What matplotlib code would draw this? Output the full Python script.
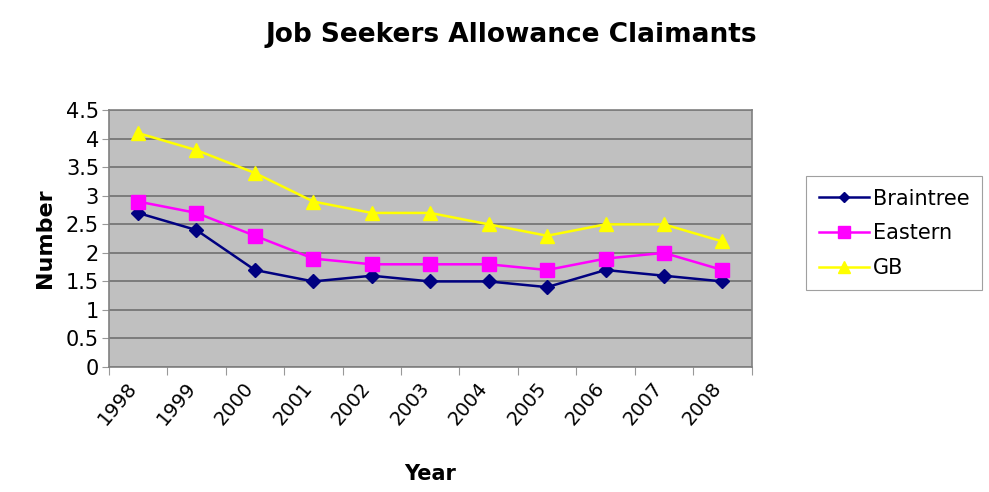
import matplotlib
matplotlib.use("Agg")
import matplotlib.pyplot as plt
import numpy as np

years = ["1998", "1999", "2000", "2001", "2002", "2003", "2004", "2005", "2006", "2007", "2008"]
braintree = [2.7, 2.4, 1.7, 1.5, 1.6, 1.5, 1.5, 1.4, 1.7, 1.6, 1.5]
eastern = [2.9, 2.7, 2.3, 1.9, 1.8, 1.8, 1.8, 1.7, 1.9, 2.0, 1.7]
gb = [4.1, 3.8, 3.4, 2.9, 2.7, 2.7, 2.5, 2.3, 2.5, 2.5, 2.2]

plt.rcParams["font.family"] = ["DejaVu Sans"]

fig = plt.figure(figsize=(9.89, 4.92), dpi=100)
ax = fig.add_axes([0.110, 0.254, 0.650, 0.522])
ax.set_facecolor("#c0c0c0")

x = np.arange(len(years))
ax.plot(x, braintree, color="#000080", lw=1.8, marker="D", ms=7, label="Braintree")
ax.plot(x, eastern, color="#ff00ff", lw=1.8, marker="s", ms=10, label="Eastern")
ax.plot(x, gb, color="#ffff00", lw=1.8, marker="^", ms=10, label="GB")

ax.set_xlim(-0.5, len(years) - 0.5)
ax.set_ylim(0, 4.5)
ax.set_yticks(np.arange(0, 4.51, 0.5))
ax.set_yticklabels(["0", "0.5", "1", "1.5", "2", "2.5", "3", "3.5", "4", "4.5"], fontsize=15)
ax.yaxis.grid(True, color="#707070", lw=1.2)
ax.set_axisbelow(True)

# category boundaries carry the ticks, labels sit under each category
ax.set_xticks(np.arange(-0.5, len(years), 1.0))
ax.set_xticklabels([])
ax.tick_params(axis="x", length=6, color="#999999", direction="out")
ax.tick_params(axis="y", length=5, color="#999999", direction="out", pad=2)
for i, yr in enumerate(years):
    ax.text(i - 0.2, -0.2, yr, rotation=50, ha="right", va="top",
            rotation_mode="anchor", fontsize=14)

for s in ax.spines.values():
    s.set_color("#808080")
    s.set_linewidth(1.2)

ax.set_ylabel("Number", fontsize=16, fontweight="bold", labelpad=8)
fig.text(0.435, 0.025, "Year", ha="center", fontsize=15, fontweight="bold")
fig.text(0.517, 0.929, "Job Seekers Allowance Claimants", ha="center", va="center",
         fontsize=19, fontweight="bold")

leg = fig.legend(loc="upper left", bbox_to_anchor=(0.815, 0.642), fontsize=15,
                 frameon=True, fancybox=False, borderpad=0.6, borderaxespad=0,
                 handlelength=2.4, handletextpad=0.2, labelspacing=0.7,
                 markerscale=0.8)
leg.get_frame().set_edgecolor("#888888")
leg.get_frame().set_linewidth(0.8)

fig.savefig("out.png", dpi=100)
